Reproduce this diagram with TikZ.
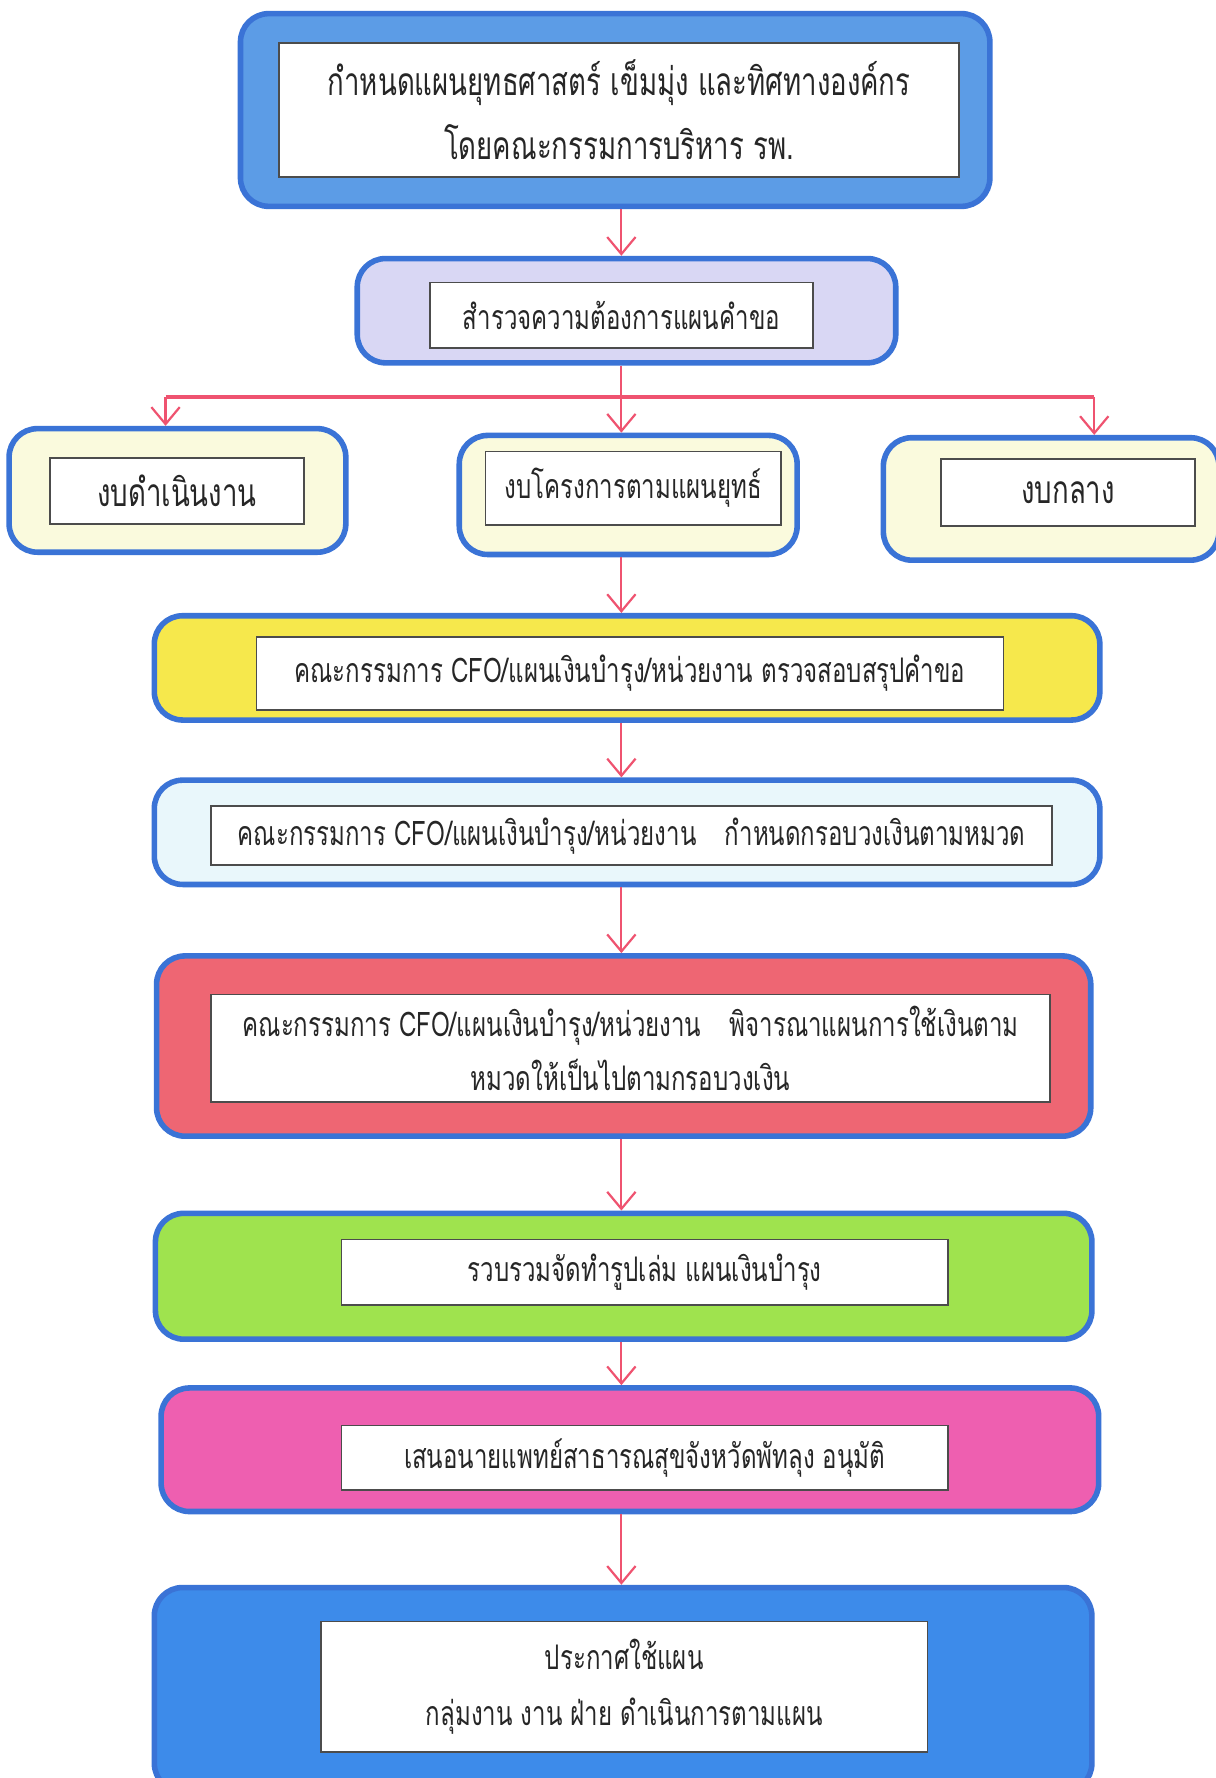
\documentclass[tikz,border=0pt]{standalone}
\usepackage{fontspec}
\usetikzlibrary{arrows.meta,calc}
\newfontfamily\thai[Script=Thai,FakeStretch=0.71]{Loma}
\definecolor{bdr}{HTML}{3A73D6}
\definecolor{arrc}{HTML}{EF5370}
\definecolor{cTop}{HTML}{5C9CE6}
\definecolor{cLav}{HTML}{D9D7F4}
\definecolor{cLy}{HTML}{FAFADD}
\definecolor{cYel}{HTML}{F6E84C}
\definecolor{cCy}{HTML}{E9F7FB}
\definecolor{cRed}{HTML}{EE6673}
\definecolor{cGrn}{HTML}{9FE34E}
\definecolor{cMag}{HTML}{EE5FB0}
\definecolor{cBlu}{HTML}{3D8BEA}
\tikzset{
  outerbox/.style={draw=bdr,line width=2.8pt,rounded corners=0.5cm,inner sep=0pt},
  innerbox/.style={draw=black!70,line width=0.8pt,fill=white,inner sep=0pt,align=center,
    font=\thai\fontsize{17}{24}\selectfont,text=black!85},
  bigtext/.style={font=\thai\fontsize{19.5}{24}\selectfont},
  arr/.style={draw=arrc,line width=1.1pt,-{Straight Barb[length=0.3cm,width=0.5cm,line width=1.1pt]}},
  split/.style={draw=arrc,line width=1.7pt}
}
\begin{document}
\begin{tikzpicture}[x=0.02cm,y=-0.02cm]
\fill[white] (0,0) rectangle (1072,1568);
\useasboundingbox (0,0) rectangle (1072,1568);
% outer boxes
\node[outerbox,fill=cTop,minimum width=13.22cm,minimum height=3.4cm] (b1) at (542.5,97) {};
\node[outerbox,fill=cLav,minimum width=9.5cm,minimum height=1.84cm] (b2) at (552.5,274) {};
\node[outerbox,fill=cLy,minimum width=5.94cm,minimum height=2.18cm] (bL) at (156.5,432.5) {};
\node[outerbox,fill=cLy,minimum width=5.96cm,minimum height=2.1cm] (bM) at (554,436.5) {};
\node[outerbox,fill=cLy,minimum width=5.92cm,minimum height=2.16cm] (bR) at (927,440) {};
\node[outerbox,fill=cYel,minimum width=16.68cm,minimum height=1.84cm] (b4) at (553,589) {};
\node[outerbox,fill=cCy,minimum width=16.68cm,minimum height=1.84cm] (b5) at (553,734) {};
\node[outerbox,fill=cRed,minimum width=16.48cm,minimum height=3.18cm] (b6) at (550,922.5) {};
\node[outerbox,fill=cGrn,minimum width=16.52cm,minimum height=2.22cm] (b7) at (550,1125.5) {};
\node[outerbox,fill=cMag,minimum width=16.54cm,minimum height=2.18cm] (b8) at (555.5,1278.5) {};
\node[outerbox,fill=cBlu,minimum width=16.54cm,minimum height=3.6cm] (b9) at (549.5,1490) {};
% inner boxes with text
\node[innerbox,bigtext,minimum width=12cm,minimum height=2.36cm] (t1) at (546,97)
  {กำหนดแผนยุทธศาสตร์ เข็มมุ่ง และทิศทางองค์กร\\[8pt]โดยคณะกรรมการบริหาร รพ.};
\node[innerbox,minimum width=6.76cm,minimum height=1.16cm] (t2) at (548,278) {สำรวจความต้องการแผนคำขอ};
\node[innerbox,bigtext,minimum width=4.48cm,minimum height=1.16cm] (tL) at (156,433) {งบดำเนินงาน};
\node[innerbox,minimum width=5.22cm,minimum height=1.3cm] (tM) at (558.5,430.5) {งบโครงการตามแผนยุทธ์};
\node[innerbox,bigtext,minimum width=4.48cm,minimum height=1.18cm] (tR) at (942,434.5) {งบกลาง};
\node[innerbox,minimum width=13.18cm,minimum height=1.28cm] (t4) at (555.5,594)
  {คณะกรรมการ CFO/แผนเงินบำรุง/หน่วยงาน ตรวจสอบสรุปคำขอ};
\node[innerbox,minimum width=14.84cm,minimum height=1.04cm] (t5) at (557,737)
  {คณะกรรมการ CFO/แผนเงินบำรุง/หน่วยงาน\hspace{0.5cm}กำหนดกรอบวงเงินตามหมวด};
\node[innerbox,minimum width=14.8cm,minimum height=1.9cm] (t6) at (556,924.5)
  {คณะกรรมการ CFO/แผนเงินบำรุง/หน่วยงาน\hspace{0.5cm}พิจารณาแผนการใช้เงินตาม\\[2.7pt]หมวดให้เป็นไปตามกรอบวงเงิน};
\node[innerbox,minimum width=10.7cm,minimum height=1.16cm] (t7) at (568.5,1122) {รวบรวมจัดทำรูปเล่ม แผนเงินบำรุง};
\node[innerbox,minimum width=10.7cm,minimum height=1.14cm] (t8) at (568.5,1285.5) {เสนอนายแพทย์สาธารณสุขจังหวัดพัทลุง อนุมัติ};
\node[innerbox,minimum width=10.7cm,minimum height=2.3cm] (t9) at (550.5,1487.5)
  {ประกาศใช้แผน\\[4.4pt]กลุ่มงาน งาน ฝ่าย ดำเนินการตามแผน};
% connectors
\coordinate (sp) at (548,350);
\coordinate (spL) at (146,350);
\coordinate (spR) at (965,350);
\draw[arr] (b1.south -| sp) -- (b2.north -| sp);
\draw[split] (spL) -- (spR);
\draw[arr] (b2.south -| sp) -- (bM.north -| sp);
\draw[arr] (spL) -- (bL.north -| spL);
\draw[arr] (spR) -- (bR.north -| spR);
\draw[arr] (bM.south -| sp) -- (b4.north -| sp);
\draw[arr] (b4.south -| sp) -- (b5.north -| sp);
\draw[arr] (b5.south -| sp) -- (b6.north -| sp);
\draw[arr] (b6.south -| sp) -- (b7.north -| sp);
\draw[arr] (b7.south -| sp) -- (b8.north -| sp);
\draw[arr] (b8.south -| sp) -- (b9.north -| sp);
\end{tikzpicture}
\end{document}
